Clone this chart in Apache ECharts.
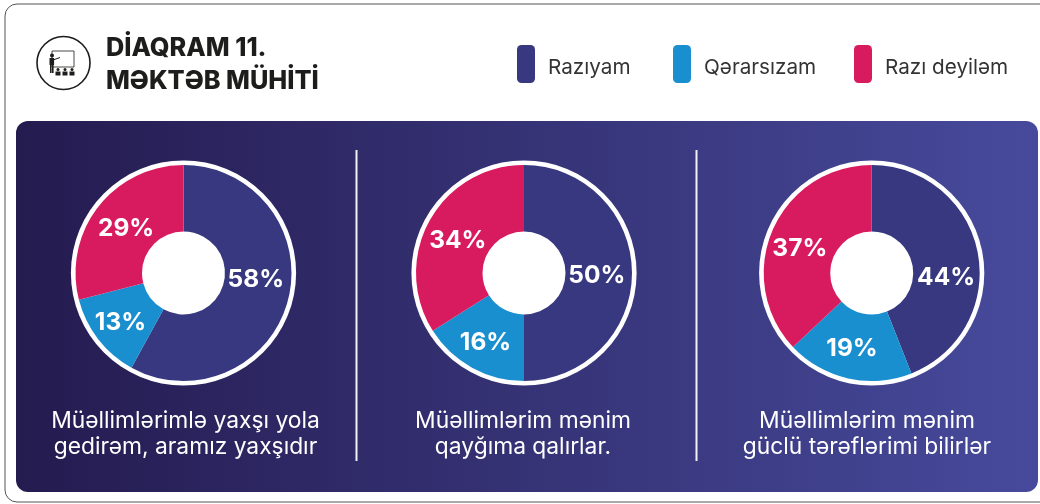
<!DOCTYPE html>
<html><head><meta charset="utf-8">
<style>html,body{margin:0;padding:0;background:#fff}#c{width:1040px;height:504px}</style>
<script src="https://cdn.jsdelivr.net/npm/echarts@6/dist/echarts.min.js"></script>
</head><body><div id="c"></div>
<script>
const categories = ['Razıyam', 'Qərarsızam', 'Razı deyiləm'];
const questions = ['Müəllimlərimlə yaxşı yola\ngedirəm, aramız yaxşıdır', 'Müəllimlərim mənim\nqayğıma qalırlar.', 'Müəllimlərim mənim\ngüclü tərəflərimi bilirlər'];
const raziyam = [58, 50, 44];
const qerarsizam = [13, 16, 19];
const razideyilem = [29, 34, 37];
const chartTitle = 'DİAQRAM 11.\nMƏKTƏB MÜHİTİ';

const colors = ['#37387f', '#1a8fd0', '#d81b5e'];
const FONT = 'Inter';
const centers = [183.5, 524, 871.7];
const cy = 273;
const captionX = [180.5, 518, 862];
const legendX = [517, 673, 854];
const labelOffsets = [
  [[-3, -12.5], [-1.6, 2], [4, 3.7]],
  [[-5, 3], [-1, 1.7], [2, 5]],
  [[-2, 19.5], [-2.7, 0], [-0.5, 6.6]]
];

const series = centers.map((cx, i) => ({
  type: 'pie', center: [cx, cy], radius: [41.5, 108], startAngle: 90, clockwise: true,
  silent: true, animation: false,
  label: { show: true, position: 'inside', formatter: '{c}%', color: '#fff', fontFamily: FONT, fontWeight: 700, fontSize: 24.5 },
  labelLine: { show: false },
  data: [raziyam[i], qerarsizam[i], razideyilem[i]].map((v, j) => ({
    name: categories[j], value: v,
    itemStyle: { color: colors[j] },
    label: { offset: labelOffsets[i][j] }
  }))
}));

const bar = (x, y, w, h) => ({ type: 'rect', shape: { x, y, width: w, height: h }, style: { fill: '#1d1d1b' } });
const head = (x, y, r) => ({ type: 'circle', shape: { cx: x, cy: y, r }, style: { fill: '#1d1d1b' } });
const icon = [
  { type: 'circle', shape: { cx: 63.5, cy: 63, r: 26.5 }, style: { fill: '#fff', stroke: '#1d1d1b', lineWidth: 1.6 } },
  { type: 'rect', shape: { x: 52, y: 51, width: 22, height: 16 }, style: { fill: '#fff', stroke: '#1d1d1b', lineWidth: 0.8 } },
  head(52, 55.5, 2),
  bar(49.5, 58, 4.6, 7), bar(50, 65, 1.6, 8), bar(52, 65, 1.6, 8),
  { type: 'line', shape: { x1: 53, y1: 60, x2: 60, y2: 57.5 }, style: { stroke: '#1d1d1b', lineWidth: 1 } },
  head(58, 69.5, 1.5), bar(55.5, 71.5, 5, 4),
  head(65, 69.5, 1.5), bar(62.5, 71.5, 5, 4),
  head(72, 69.5, 1.5), bar(69.5, 71.5, 5, 4)
];

const chart = echarts.init(document.getElementById('c'), null, { renderer: 'canvas' });
chart.setOption({
  animation: false,
  backgroundColor: '#fff',
  title: [
    { text: chartTitle, left: 101, top: 27, textStyle: { fontFamily: FONT, fontWeight: 800, fontSize: 25.3, lineHeight: 33, color: '#1d1d1b' } }
  ].concat(questions.map((q, i) => ({
    text: q, left: captionX[i], top: 403, textAlign: 'center',
    textStyle: { fontFamily: FONT, fontWeight: 400, fontSize: 22.8, lineHeight: 26, color: '#fff' }
  }))),
  legend: categories.map((c, i) => ({
    data: [c], left: legendX[i], top: 45, orient: 'horizontal', selectedMode: false,
    icon: 'roundRect', itemWidth: 18, itemHeight: 38, padding: 0,
    formatter: '{t|{name}}',
    textStyle: { rich: { t: { fontFamily: FONT, fontSize: 20.7, color: '#333', padding: [8, 0, 0, 8] } } }
  })),
  graphic: [
    { type: 'rect', z: 0, shape: { x: 5, y: 4, width: 1060, height: 498, r: 12 }, style: { fill: '#fff', stroke: '#555', lineWidth: 1 } },
    { type: 'rect', z: 0, shape: { x: 16, y: 121, width: 1022, height: 371, r: 12 },
      style: { fill: new echarts.graphic.LinearGradient(0, 0, 1, 0, [{ offset: 0, color: '#241b4f' }, { offset: 1, color: '#474a9c' }]) } },
    { type: 'rect', z: 0, shape: { x: 355.5, y: 150, width: 2, height: 311 }, style: { fill: '#f2f2f6' } },
    { type: 'rect', z: 0, shape: { x: 695.5, y: 150, width: 2, height: 311 }, style: { fill: '#f2f2f6' } }
  ].concat(centers.map(cx => ({ type: 'circle', z: 1, shape: { cx, cy, r: 112.6 }, style: { fill: '#fff' } })))
   .concat([{ type: 'group', z: 1, children: icon.map(e => Object.assign({ z: 1 }, e)) }]),
  series
});
</script></body></html>
